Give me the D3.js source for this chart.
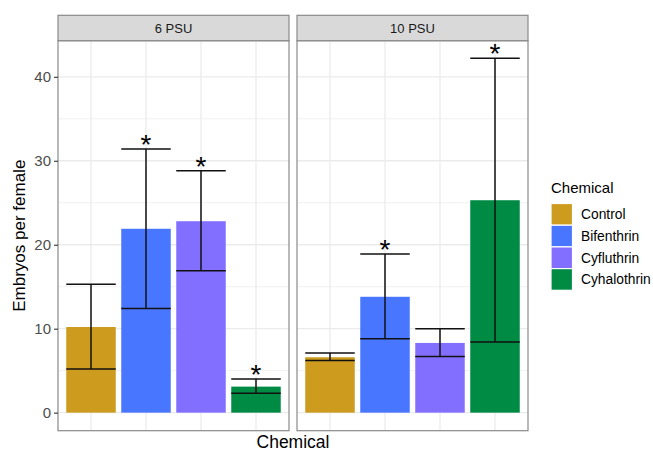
<!DOCTYPE html>
<html>
<head>
<meta charset="utf-8">
<script src="https://cdn.jsdelivr.net/npm/d3@7"></script>
<style>
  body { margin: 0; background: #fff; }
  svg { font-family: "Liberation Sans", Arial, sans-serif; }
</style>
</head>
<body>
<svg width="653" height="452"></svg>
<script>
const chemicals = ['Control', 'Bifenthrin', 'Cyfluthrin', 'Cyhalothrin']
const salinities = ['6 PSU', '10 PSU']
const COLORS = ['#CD9B1D', '#4876FF', '#836FFF', '#008B45']

// per salinity panel, in chemicals order
const means = [
  [10.2, 21.9, 22.8, 3.1],
  [6.6, 13.8, 8.3, 25.3]
]
const lowers = [
  [5.2, 12.4, 16.9, 2.3],
  [6.2, 8.8, 6.7, 8.4]
]
const uppers = [
  [15.3, 31.4, 28.8, 4.0],
  [7.1, 18.9, 10.0, 42.2]
]
const signif = [
  [false, true, true, true],
  [false, true, false, true]
]
const yTicks = [0, 10, 20, 30, 40]
const yMinor = [5, 15, 25, 35]

const PANEL_TOP = 40.7,
  PANEL_BOTTOM = 430.7,
  STRIP_TOP = 15.3,
  PANELS = [[58, 289], [297, 528]]

const svg = d3.select('svg')

const y = d3.scaleLinear()
  .domain([-2.15, 44.3])
  .range([PANEL_BOTTOM, PANEL_TOP])

salinities.forEach((sal, p) => {
  const [x0, x1] = PANELS[p]
  const x = d3.scaleBand()
    .domain(chemicals)
    .range([x0, x1])
    .paddingInner(0.1)
    .paddingOuter(0.15)
  const bw = x.bandwidth()
  const cx = d => x(d) + bw / 2

  const g = svg.append('g')

  // panel background + grid
  g.append('rect')
    .attr('x', x0).attr('y', PANEL_TOP)
    .attr('width', x1 - x0).attr('height', PANEL_BOTTOM - PANEL_TOP)
    .attr('fill', '#fff')

  g.selectAll('.minor').data(yMinor).enter()
    .append('line')
    .attr('x1', x0).attr('x2', x1)
    .attr('y1', d => y(d)).attr('y2', d => y(d))
    .attr('stroke', '#ebebeb').attr('stroke-width', 0.7)

  g.selectAll('.major').data(yTicks).enter()
    .append('line')
    .attr('x1', x0).attr('x2', x1)
    .attr('y1', d => y(d)).attr('y2', d => y(d))
    .attr('stroke', '#ebebeb').attr('stroke-width', 1.3)

  g.selectAll('.vgrid').data(chemicals).enter()
    .append('line')
    .attr('x1', cx).attr('x2', cx)
    .attr('y1', PANEL_TOP).attr('y2', PANEL_BOTTOM)
    .attr('stroke', '#ebebeb').attr('stroke-width', 1.3)

  const rows = chemicals.map((c, i) => ({
    chem: c, mean: means[p][i], lo: lowers[p][i], hi: uppers[p][i], sig: signif[p][i], col: COLORS[i]
  }))

  // bars
  g.selectAll('.bar').data(rows).enter()
    .append('rect')
    .attr('x', d => x(d.chem))
    .attr('width', bw)
    .attr('y', d => y(d.mean))
    .attr('height', d => y(0) - y(d.mean))
    .attr('fill', d => d.col)

  // error bars
  const eb = g.selectAll('.eb').data(rows).enter().append('g')
  eb.append('line')
    .attr('x1', d => cx(d.chem)).attr('x2', d => cx(d.chem))
    .attr('y1', d => y(d.lo)).attr('y2', d => y(d.hi))
  eb.append('line')
    .attr('x1', d => x(d.chem)).attr('x2', d => x(d.chem) + bw)
    .attr('y1', d => y(d.lo)).attr('y2', d => y(d.lo))
  eb.append('line')
    .attr('x1', d => x(d.chem)).attr('x2', d => x(d.chem) + bw)
    .attr('y1', d => y(d.hi)).attr('y2', d => y(d.hi))
  eb.selectAll('line').attr('stroke', '#111').attr('stroke-width', 1.5)

  // significance stars
  g.selectAll('.star').data(rows.filter(d => d.sig)).enter()
    .append('text')
    .attr('x', d => cx(d.chem))
    .attr('y', d => y(d.hi + 1.3) + 16)
    .attr('text-anchor', 'middle')
    .attr('font-size', 28)
    .attr('fill', '#000')
    .text('*')

  // border
  g.append('rect')
    .attr('x', x0).attr('y', PANEL_TOP)
    .attr('width', x1 - x0).attr('height', PANEL_BOTTOM - PANEL_TOP)
    .attr('fill', 'none').attr('stroke', '#8a8a8a').attr('stroke-width', 1.2)

  // strip
  g.append('rect')
    .attr('x', x0).attr('y', STRIP_TOP)
    .attr('width', x1 - x0).attr('height', PANEL_TOP - STRIP_TOP)
    .attr('fill', '#d9d9d9').attr('stroke', '#8a8a8a').attr('stroke-width', 1.2)
  g.append('text')
    .attr('x', (x0 + x1) / 2).attr('y', (STRIP_TOP + PANEL_TOP) / 2)
    .attr('dy', '0.35em')
    .attr('text-anchor', 'middle')
    .attr('font-size', 13)
    .attr('fill', '#1a1a1a')
    .text(sal)
})

// y axis
const yAxis = svg.append('g')
  .attr('transform', `translate(${PANELS[0][0]},0)`)
  .call(d3.axisLeft(y).tickValues(yTicks).tickSize(4).tickPadding(3))
yAxis.select('.domain').remove()
yAxis.selectAll('line').attr('stroke', '#333').attr('stroke-width', 1.1)
yAxis.selectAll('text')
  .attr('font-size', 15)
  .attr('fill', '#4d4d4d')
  .attr('font-family', '"Liberation Sans", Arial, sans-serif')

// axis titles
svg.append('text')
  .attr('transform', `translate(25,${(PANEL_TOP + PANEL_BOTTOM) / 2}) rotate(-90)`)
  .attr('text-anchor', 'middle')
  .attr('font-size', 17)
  .text('Embryos per female')

svg.append('text')
  .attr('x', (PANELS[0][0] + PANELS[1][1]) / 2)
  .attr('y', 448)
  .attr('text-anchor', 'middle')
  .attr('font-size', 17.5)
  .text('Chemical')

// legend
const legend = svg.append('g').attr('transform', 'translate(551,193)')
legend.append('text')
  .attr('font-size', 15)
  .text('Chemical')
const item = legend.selectAll('.item').data(chemicals).enter()
  .append('g')
  .attr('transform', (d, i) => `translate(0,${10.5 + i * 21.7})`)
item.append('rect')
  .attr('width', 21.5).attr('height', 21.7)
  .attr('fill', (d, i) => COLORS[i])
  .attr('stroke', '#fff').attr('stroke-width', 1.2)
item.append('text')
  .attr('x', 30).attr('y', 10.85)
  .attr('dy', '0.35em')
  .attr('font-size', 13.8)
  .text(d => d)
</script>
</body>
</html>
